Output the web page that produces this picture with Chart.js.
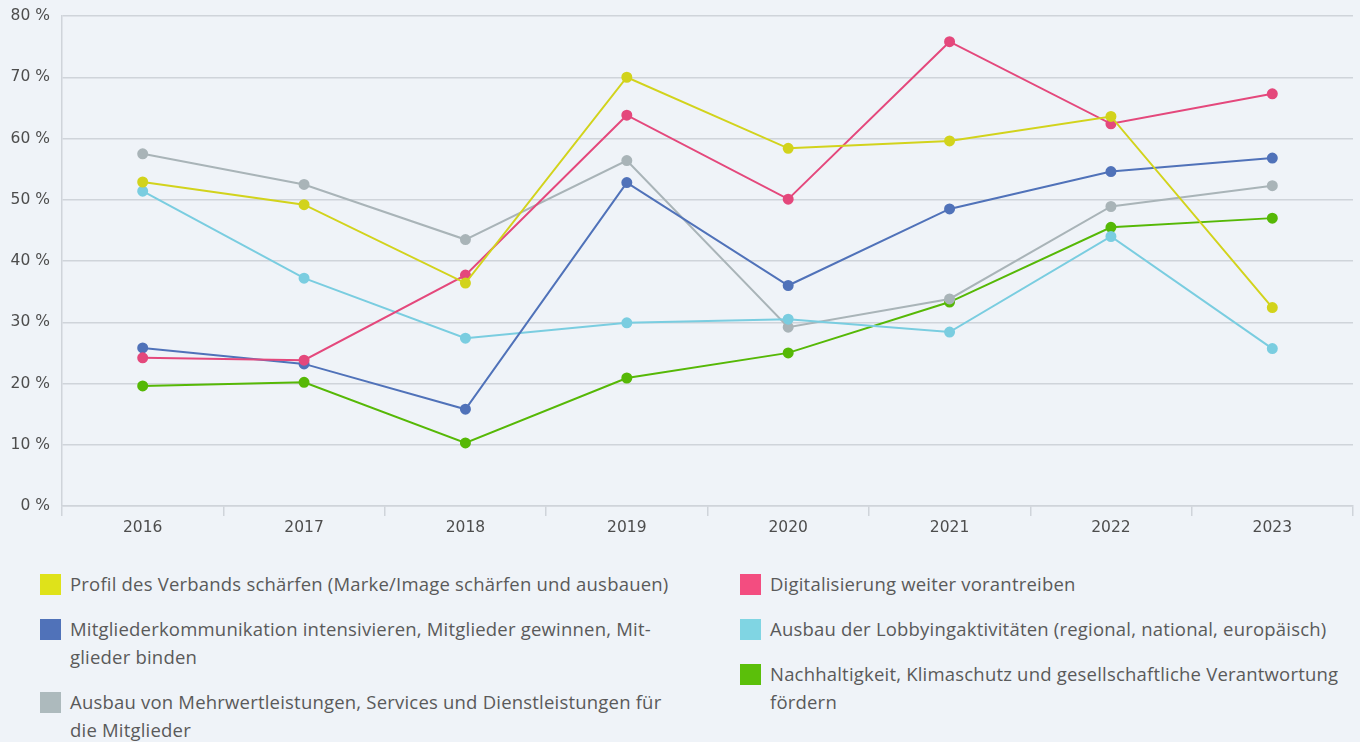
<!DOCTYPE html>
<html lang="de">

<head>
    <meta charset="UTF-8">
    <meta name="viewport" content="width=device-width, initial-scale=1.0">
    <title>Strategische Ziele 2016-2023</title>

    <script src="https://cdn.jsdelivr.net/npm/chart.js"></script>

    <style>
        body {
            margin: 0;
            background: #eff3f8;
            font-family: "Open Sans", sans-serif;
        }

        .chart-box {
            position: relative;
            width: 1360px;
            height: 540px;
        }

        .legend {
            position: absolute;
            top: 570px;
            left: 40px;
            width: 1320px;
        }

        .legend-col {
            position: absolute;
            top: 0;
        }

        .legend-item {
            position: relative;
            padding-left: 30px;
            margin-bottom: 17px;
            font-size: 18.5px;
            letter-spacing: 0.2px;
            line-height: 28px;
            color: #5a5a5a;
            white-space: nowrap;
        }

        .legend-item .swatch {
            position: absolute;
            left: 0;
            top: 4px;
            width: 21px;
            height: 21px;
        }
    </style>
</head>

<body>

    <div class="chart-box">
        <canvas id="zieleChart" width="1360" height="540"></canvas>
    </div>

    <div class="legend">
        <div class="legend-col" id="legendLeft" style="left:0"></div>
        <div class="legend-col" id="legendRight" style="left:700px"></div>
    </div>

    <script>
        // Jahre (x-Achse)
        const years = ["2016", "2017", "2018", "2019", "2020", "2021", "2022", "2023"];
        const yTicks = [0, 10, 20, 30, 40, 50, 60, 70, 80];

        // Werte in Prozent
        const profil = [52.9, 49.2, 36.4, 70.0, 58.4, 59.6, 63.6, 32.4];
        const digital = [24.2, 23.8, 37.7, 63.8, 50.1, 75.8, 62.4, 67.3];
        const mitglieder = [25.8, 23.2, 15.8, 52.8, 36.0, 48.5, 54.6, 56.8];
        const lobbying = [51.4, 37.2, 27.4, 29.9, 30.5, 28.4, 44.0, 25.7];
        const mehrwert = [57.5, 52.5, 43.5, 56.4, 29.2, 33.8, 48.9, 52.3];
        const nachhaltig = [19.6, 20.2, 10.3, 20.9, 25.0, 33.3, 45.5, 47.0];

        // Legendentexte (mit Umbruch wie im Original)
        const labelProfil = "Profil des Verbands schärfen (Marke/Image schärfen und ausbauen)";
        const labelDigital = "Digitalisierung weiter vorantreiben";
        const labelMitglieder = "Mitgliederkommunikation intensivieren, Mitglieder gewinnen, Mit-\nglieder binden";
        const labelLobbying = "Ausbau der Lobbyingaktivitäten (regional, national, europäisch)";
        const labelMehrwert = "Ausbau von Mehrwertleistungen, Services und Dienstleistungen für\ndie Mitglieder";
        const labelNachhaltig = "Nachhaltigkeit, Klimaschutz und gesellschaftliche Verantwortung\nfördern";

        const series = [
            { label: labelProfil, data: profil, line: "#d2d31c", swatch: "#dfe21a", col: "left" },
            { label: labelDigital, data: digital, line: "#e4487c", swatch: "#f34d80", col: "right" },
            { label: labelMitglieder, data: mitglieder, line: "#5072b9", swatch: "#5072b9", col: "left" },
            { label: labelLobbying, data: lobbying, line: "#7acde0", swatch: "#80d5e3", col: "right" },
            { label: labelMehrwert, data: mehrwert, line: "#a9b4b8", swatch: "#adbabd", col: "left" },
            { label: labelNachhaltig, data: nachhaltig, line: "#56b806", swatch: "#5bbf0a", col: "right" }
        ];

        const gridColor = "#cfd4da";
        const tickColor = "#4d4d4d";
        const tickFont = { family: "DejaVu Sans", size: 15.5 };

        const ctx = document.getElementById('zieleChart').getContext('2d');
        new Chart(ctx, {
            type: 'line',
            data: {
                labels: years,
                datasets: series.map(s => ({
                    label: s.label,
                    data: s.data,
                    borderColor: s.line,
                    backgroundColor: s.line,
                    pointBackgroundColor: s.line,
                    pointBorderColor: s.line,
                    borderWidth: 2,
                    pointRadius: 4.5,
                    pointHoverRadius: 4.5,
                    tension: 0,
                    fill: false
                }))
            },
            options: {
                responsive: false,
                animation: false,
                layout: { padding: { top: 16, right: 7, left: 0, bottom: 0 } },
                plugins: {
                    legend: { display: false },
                    tooltip: { enabled: false }
                },
                scales: {
                    x: {
                        offset: true,
                        grid: {
                            offset: true,
                            drawOnChartArea: false,
                            drawTicks: true,
                            tickLength: 10,
                            color: gridColor,
                            lineWidth: 1.5
                        },
                        border: { display: true, color: gridColor, width: 1.5 },
                        ticks: { color: tickColor, font: tickFont, padding: 3, maxRotation: 0 },
                        afterFit: scale => {
                            scale.height = 34;
                            scale.paddingLeft = 0;
                            scale.paddingRight = 0;
                        }
                    },
                    y: {
                        min: 0,
                        max: 80,
                        afterBuildTicks: scale => {
                            scale.ticks = yTicks.map(v => ({ value: v }));
                        },
                        grid: {
                            drawTicks: false,
                            color: gridColor,
                            lineWidth: 1.5
                        },
                        border: { display: true, color: gridColor, width: 1.5 },
                        ticks: {
                            color: tickColor,
                            font: tickFont,
                            padding: 12,
                            callback: v => v + ' %'
                        },
                        afterFit: scale => {
                            scale.width = 62;
                            scale.paddingTop = 0;
                            scale.paddingBottom = 0;
                        }
                    }
                }
            }
        });

        // HTML-Legende in zwei Spalten
        series.forEach(s => {
            const item = document.createElement('div');
            item.className = 'legend-item';
            const sw = document.createElement('span');
            sw.className = 'swatch';
            sw.style.background = s.swatch;
            item.appendChild(sw);
            s.label.split('\n').forEach((line, i) => {
                if (i > 0) item.appendChild(document.createElement('br'));
                item.appendChild(document.createTextNode(line));
            });
            document.getElementById(s.col === 'left' ? 'legendLeft' : 'legendRight').appendChild(item);
        });
    </script>

</body>

</html>
